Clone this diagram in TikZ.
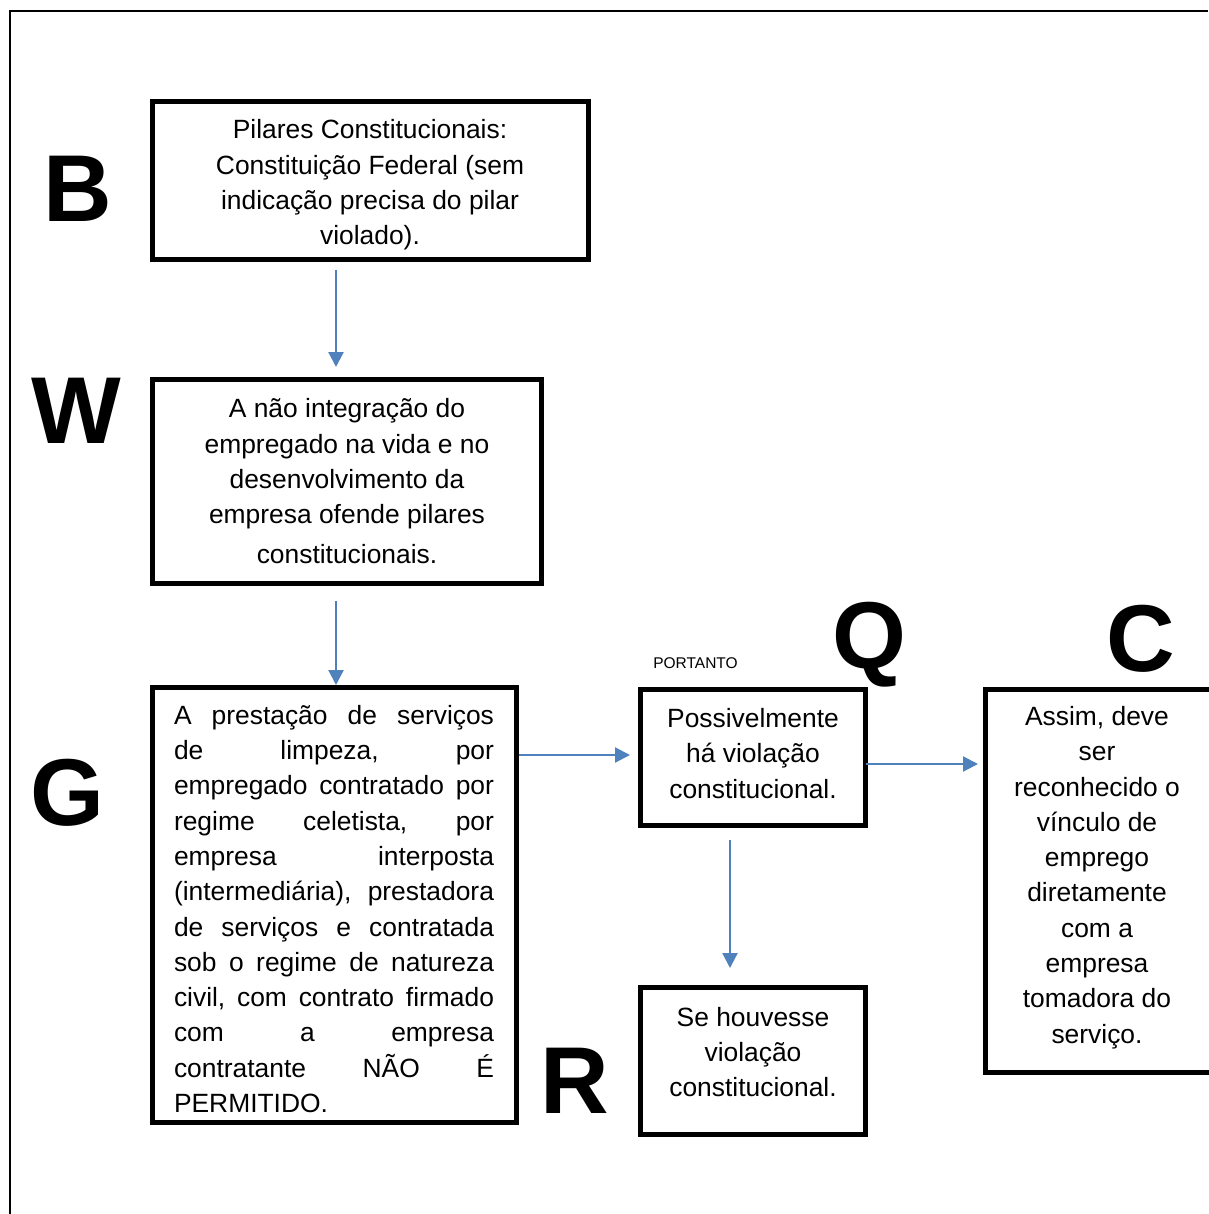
\documentclass[tikz,border=0pt]{standalone}
\usepackage{fontspec}
\setmainfont{Liberation Sans}
\usetikzlibrary{arrows.meta,calc}
\definecolor{flowblue}{RGB}{79,129,189}
\begin{document}
\begin{tikzpicture}[x=1pt,y=-1pt,
  outline/.style={draw=black,line width=2.5pt},
  box/.style={draw=black,line width=5pt,rectangle,inner sep=0pt},
  txt/.style={inner sep=0pt,align=center,font=\fontsize{26.4}{35.3}\selectfont},
  tag/.style={inner sep=0pt,anchor=base,font=\fontsize{95}{100}\selectfont\bfseries},
  small/.style={inner sep=0pt,font=\fontsize{15.5}{18}\selectfont},
  arr/.style={draw=flowblue,line width=2.2pt,-{Triangle[length=15pt,width=15pt]}}
]
\useasboundingbox (0,0) rectangle (1208,1214);
\fill[white] (0,0) rectangle (1208,1214);

% outer frame (top and left sides)
\draw[outline] (10,1214) -- (10,11) -- (1208,11);

% boxes
\node[box,minimum width=436pt,minimum height=158pt] (B) at (370.5,180.5) {};
\node[box,minimum width=389pt,minimum height=204pt] (W) at (347,481.5) {};
\node[box,minimum width=364pt,minimum height=435pt] (G) at (334.5,905) {};
\node[box,minimum width=225pt,minimum height=136pt] (Q) at (753,757.5) {};
\node[box,minimum width=225pt,minimum height=147pt] (R) at (753,1061) {};
\node[box,minimum width=229pt,minimum height=383pt] (C) at (1100,881) {};

% box texts
\node[txt] (Btext) at (370,185) {Pilares Constitucionais:\\ Constituição Federal (sem\\ indicação precisa do pilar\\ violado).};
\node[txt] (Wtext) at (347,481) {A não integração do\\ empregado na vida e no\\ desenvolvimento da\\ empresa ofende pilares\\[4pt] constitucionais.};
\node[txt,align=left] (Gtext) at (334,909) {%
\hbox to 320pt{A\hfil prestação\hfil de\hfil serviços}\\
\hbox to 320pt{de\hfil limpeza,\hfil por}\\
\hbox to 320pt{empregado\hfil contratado\hfil por}\\
\hbox to 320pt{regime\hfil celetista,\hfil por}\\
\hbox to 320pt{empresa\hfil interposta}\\
\hbox to 320pt{(intermediária),\hfil prestadora}\\
\hbox to 320pt{de\hfil serviços\hfil e\hfil contratada}\\
\hbox to 320pt{sob\hfil o\hfil regime\hfil de\hfil natureza}\\
\hbox to 320pt{civil,\hfil com\hfil contrato\hfil firmado}\\
\hbox to 320pt{com\hfil a\hfil empresa}\\
\hbox to 320pt{contratante\hfil NÃO\hfil É}\\
\hbox to 320pt{PERMITIDO.\hfil}};
\node[txt] (Qtext) at (753,753.5) {Possivelmente\\ há violação\\ constitucional.};
\node[txt] (Rtext) at (753,1052) {Se houvesse\\ violação\\ constitucional.};
\node[txt] (Ctext) at (1097,877.5) {Assim, deve\\ ser\\ reconhecido o\\ vínculo de\\ emprego\\ diretamente\\ com a\\ empresa\\ tomadora do\\ serviço.};

\node[small] (portanto) at (695.5,663) {PORTANTO};

% letter tags
\node[tag] (tagB) at (78,222) {B};
\node[tag] (tagW) at (76,443) {W};
\node[tag] (tagG) at (67.5,825) {G};
\node[tag] (tagQ) at (869,668) {Q};
\node[tag] (tagC) at (1141,671) {C};
\node[tag] (tagR) at (574.5,1113) {R};

% connectors
\draw[arr] ($(B.south -| G.north)+(1.5,8)$) -- ($(W.north -| G.north)+(1.5,-10)$);
\draw[arr] ($(W.south -| G.north)+(1.5,15)$) -- ($(G.north)+(1.5,0)$);
\draw[arr] ($(G.east |- Q.west)+(0,-2.5)$) -- ($(Q.west)+(-8,-2.5)$);
\draw[arr] ($(Q.east)+(-2,6.5)$) -- ($(C.west |- Q.east)+(-5,6.5)$);
\draw[arr] ($(Q.south)+(-23,12)$) -- ($(R.north)+(-23,-17)$);
\end{tikzpicture}
\end{document}
